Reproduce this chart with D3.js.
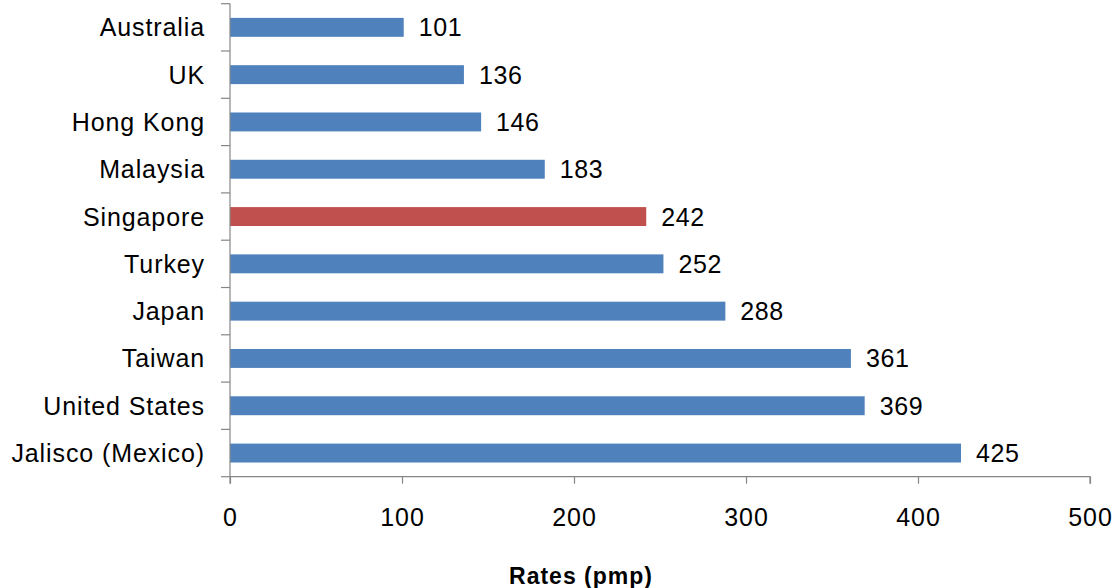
<!DOCTYPE html>
<html>
<head>
<meta charset="utf-8">
<script src="https://cdn.jsdelivr.net/npm/d3@7"></script>
<style>
html,body{margin:0;padding:0;background:#fff;}
svg{display:block;}
</style>
</head>
<body>
<svg id="chart" width="1115" height="588"></svg>
<script>
const categories = ["Australia","UK","Hong Kong","Malaysia","Singapore","Turkey","Japan","Taiwan","United States","Jalisco (Mexico)"];
const values = [101,136,146,183,242,252,288,361,369,425];
const highlight = ["Singapore"];
const xTicks = [0,100,200,300,400,500];
const xTitle = "Rates (pmp)";

(function(){
const svg = d3.select("#chart");
const mLeft = 230, mRight = 1090, mTop = 3.7, mBottom = 476.7;
const font = "'Liberation Sans', Arial, sans-serif";
const fs = 25, ls = "0.6px", lsCat = "0.9px";

const x = d3.scaleLinear().domain([0,500]).range([mLeft,mRight]);
const y = d3.scaleBand().domain(categories).range([mTop,mBottom]).paddingInner(0.6).paddingOuter(0.3);

// bars
svg.append("g").selectAll("rect").data(categories).join("rect")
  .attr("x", x(0))
  .attr("y", d => y(d))
  .attr("width", (d,i) => x(values[i]) - x(0))
  .attr("height", y.bandwidth())
  .attr("fill", d => highlight.includes(d) ? "#C0504D" : "#4F81BD");

// value labels
svg.append("g").selectAll("text").data(categories).join("text")
  .attr("x", (d,i) => x(values[i]) + 15)
  .attr("y", d => y(d) + y.bandwidth()/2)
  .attr("dy", "0.36em")
  .attr("font-family", font)
  .attr("font-size", fs)
  .attr("letter-spacing", ls)
  .attr("fill", "#000")
  .text((d,i) => values[i]);

// y axis
const yAxisG = svg.append("g");
yAxisG.append("line").attr("x1", mLeft).attr("x2", mLeft).attr("y1", mTop).attr("y2", mBottom)
  .attr("stroke", "#868686").attr("stroke-width", 1.2);
const boundaries = d3.range(categories.length + 1).map(i => mTop + i*(mBottom-mTop)/categories.length);
yAxisG.selectAll("line.tk").data(boundaries).join("line").attr("class","tk")
  .attr("x1", mLeft - 9).attr("x2", mLeft).attr("y1", d => d).attr("y2", d => d)
  .attr("stroke", "#868686").attr("stroke-width", 1.2);
yAxisG.selectAll("text").data(categories).join("text")
  .attr("x", 205)
  .attr("y", d => y(d) + y.bandwidth()/2)
  .attr("dy", "0.36em")
  .attr("text-anchor", "end")
  .attr("font-family", font)
  .attr("font-size", fs)
  .attr("letter-spacing", lsCat)
  .attr("fill", "#000")
  .text(d => d);

// x axis
const xAxis = d3.axisBottom(x).tickValues(xTicks).tickSize(7).tickPadding(24.6).tickFormat(d3.format("d"));
const xg = svg.append("g").attr("transform", `translate(0,${mBottom})`).call(xAxis);
xg.select(".domain").attr("stroke", "#868686").attr("stroke-width", 1.2).attr("d", `M${mLeft},7V0H${mRight}V7`);
xg.selectAll(".tick line").attr("stroke", "#868686").attr("stroke-width", 1.2);
xg.selectAll(".tick text").attr("font-family", font).attr("font-size", fs).attr("letter-spacing", lsCat).attr("fill", "#000");

// x title
svg.append("text")
  .attr("x", 581)
  .attr("y", 584)
  .attr("text-anchor", "middle")
  .attr("font-family", font)
  .attr("font-size", 23)
  .attr("letter-spacing", "1px")
  .attr("font-weight", "bold")
  .attr("fill", "#000")
  .text(xTitle);
})();
</script>
</body>
</html>
